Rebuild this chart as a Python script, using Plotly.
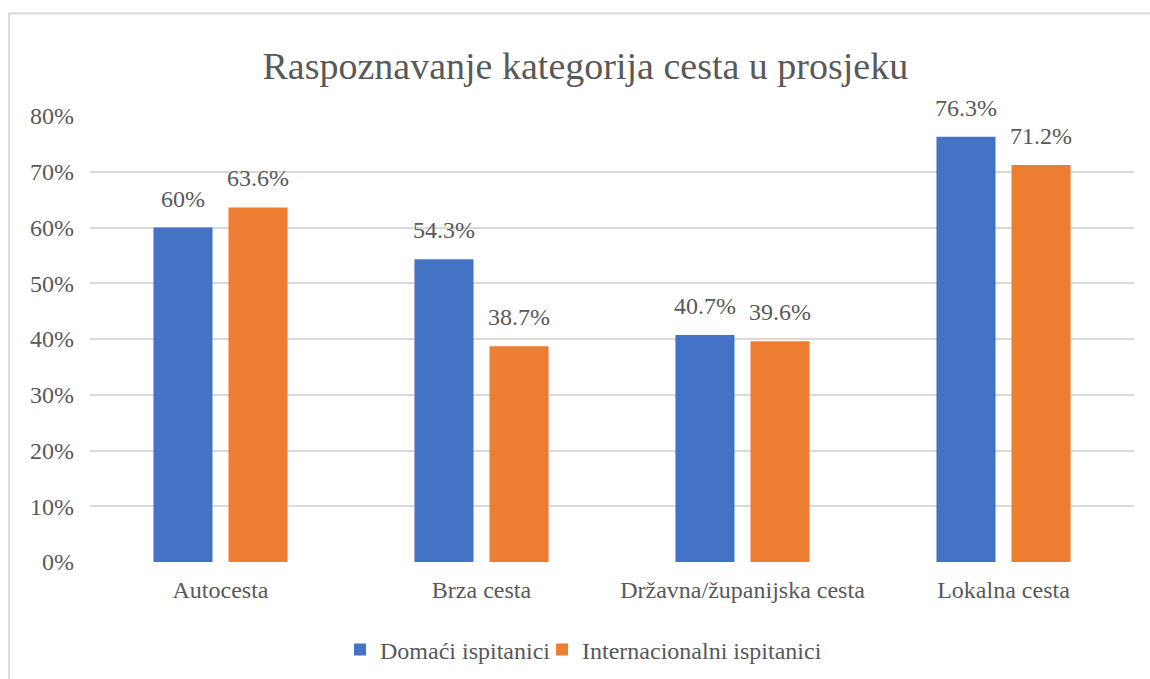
import plotly.graph_objects as go

# Road categories and the share of correct recognitions (%) per respondent group
categories = ["Autocesta", "Brza cesta", "Državna/županijska cesta", "Lokalna cesta"]
domaci = [60, 54.3, 40.7, 76.3]
internacionalni = [63.6, 38.7, 39.6, 71.2]
series_names = ["Domaći ispitanici", "Internacionalni ispitanici"]
title_text = "Raspoznavanje kategorija cesta u prosjeku"

BLUE = "#4472C4"
ORANGE = "#ED7D31"
TEXT = "#595959"
GRID = "#D9D9D9"
FONT = "'Times New Roman', 'Liberation Serif', Tinos, serif"
FS = 24

fig = go.Figure()
fig.add_trace(go.Bar(x=categories, y=domaci, name=series_names[0], legend="legend",
                     marker=dict(color=BLUE, line=dict(width=0))))
fig.add_trace(go.Bar(x=categories, y=internacionalni, name=series_names[1], legend="legend2",
                     marker=dict(color=ORANGE, line=dict(width=0))))

# value labels above each bar
def fmt(v):
    return f"{v:g}%"

annotations = []
for vals, shift in ((domaci, -37.5), (internacionalni, 37.5)):
    for cat, v in zip(categories, vals):
        annotations.append(dict(
            x=cat, y=v, xref="x", yref="y", text=fmt(v), showarrow=False,
            xanchor="center", yanchor="bottom", xshift=shift, yshift=14,
            font=dict(family=FONT, size=FS, color=TEXT)))

legend_style = dict(orientation="h", yanchor="middle", y=-0.197, xanchor="left",
                    bgcolor="rgba(0,0,0,0)", itemclick=False,
                    font=dict(family=FONT, size=FS, color=TEXT))

fig.update_layout(
    width=1150, height=679,
    margin=dict(l=90, r=16, t=116, b=117, autoexpand=False),
    paper_bgcolor="white", plot_bgcolor="white",
    barmode="group", bargap=0.425, bargroupgap=0.213,
    font=dict(family=FONT, size=FS, color=TEXT),
    title=dict(text=title_text, x=0.509, xanchor="center", y=0.903, yanchor="middle",
               font=dict(family=FONT, size=38, color=TEXT)),
    showlegend=True,
    legend=dict(legend_style, x=0.2395),
    legend2=dict(legend_style, x=0.433),
    annotations=annotations,
    shapes=[dict(type="rect", xref="paper", yref="paper",
                 x0=-0.0775, x1=1.2, y0=-0.5, y1=1.2296,
                 line=dict(color=GRID, width=2), fillcolor="rgba(0,0,0,0)", layer="below")],
)

fig.update_xaxes(showgrid=False, showline=False, zeroline=False, ticks="",
                 tickfont=dict(family=FONT, size=FS, color=TEXT), ticklabelstandoff=11)
fig.update_yaxes(range=[0, 80], dtick=10, ticksuffix="%", showgrid=True,
                 gridcolor=GRID, gridwidth=1.5, zeroline=False, showline=False,
                 tickfont=dict(family=FONT, size=FS, color=TEXT), ticklabelstandoff=15)

fig.write_html("out.html")
